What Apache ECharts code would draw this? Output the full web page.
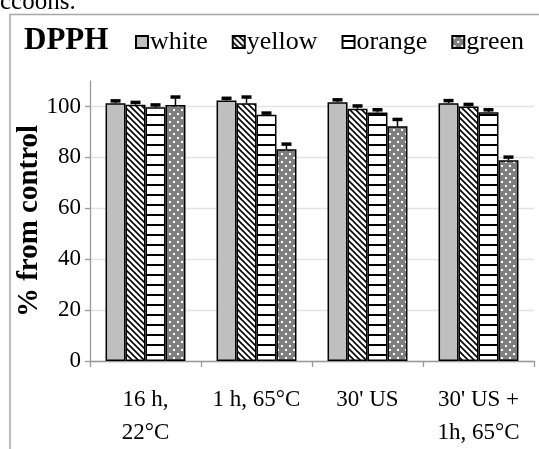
<!DOCTYPE html>
<html><head><meta charset="utf-8">
<script src="https://cdn.jsdelivr.net/npm/echarts@6/dist/echarts.min.js"></script>
<style>html,body{margin:0;padding:0;background:#fff}#c{width:539px;height:449px}</style>
</head><body><div id="c"></div>
<script>
const categories = ['16 h,\n22°C', '1 h, 65°C', "30' US", "30' US +\n1h, 65°C"];
const seriesNames = ['white', 'yellow', 'orange', 'green'];
const whiteVals = [101.3, 102.3, 101.7, 101.3];
const yellowVals = [100.7, 101.3, 99.1, 100.0];
const orangeVals = [99.7, 96.7, 97.6, 97.7];
const greenVals = [100.6, 83.2, 92.2, 78.9];
const whiteErr = [0.8, 0.8, 0.8, 0.9];
const yellowErr = [0.8, 2.3, 1.0, 0.7];
const orangeErr = [0.8, 0.6, 1.0, 0.9];
const greenErr = [3.0, 1.9, 2.6, 1.1];
const yTicks = [0, 20, 40, 60, 80, 100];

function mkCanvas(w, h, draw) {
  const c = document.createElement('canvas'); c.width = w; c.height = h;
  draw(c.getContext('2d')); return c;
}
const patYellow = mkCanvas(6, 6, g => {
  g.fillStyle = '#fff'; g.fillRect(0, 0, 6, 6);
  g.strokeStyle = '#000'; g.lineWidth = 1.6;
  g.beginPath(); g.moveTo(-1, -1); g.lineTo(7, 7);
  g.moveTo(-7, -1); g.lineTo(1, 7); g.moveTo(5, -1); g.lineTo(13, 7); g.stroke();
});
const patOrange = mkCanvas(10, 10, g => {
  g.fillStyle = '#fff'; g.fillRect(0, 0, 10, 10);
  g.fillStyle = '#000'; g.fillRect(0, 4, 10, 2);
});
const patGreen = mkCanvas(8, 8, g => {
  g.fillStyle = '#7f7f7f'; g.fillRect(0, 0, 8, 8);
  g.fillStyle = '#fff'; g.fillRect(1, 1, 2, 2); g.fillRect(5, 5, 2, 2);
});
const fills = ['#bfbfbf', {image: patYellow, repeat: 'repeat'}, {image: patOrange, repeat: 'repeat'}, {image: patGreen, repeat: 'repeat'}];
const vals = [whiteVals, yellowVals, orangeVals, greenVals];
const errs = [whiteErr, yellowErr, orangeErr, greenErr];
const GAP = 0.28;
const font = 'Liberation Serif';

const series = [];
seriesNames.forEach((n, i) => {
  series.push({
    name: n, type: 'bar', data: vals[i], barGap: '0%', barCategoryGap: (GAP * 100) + '%',
    itemStyle: {color: fills[i], borderColor: '#000', borderWidth: 1.5},
    emphasis: {disabled: true}, animation: false
  });
});
seriesNames.forEach((n, i) => {
  series.push({
    type: 'custom', silent: true, animation: false, z: 5,
    data: vals[i].map((v, k) => [k, v, errs[i][k]]),
    renderItem: (params, api) => {
      const ci = api.value(0), v = api.value(1), e = api.value(2);
      const base = api.coord([ci, v]), top = api.coord([ci, v + e]);
      const band = api.size([1, 0])[0];
      const bw = band * (1 - GAP) / 4;
      const x = base[0] + (i - 1.5) * bw;
      return {type: 'group', children: [
        {type: 'line', shape: {x1: x, y1: base[1], x2: x, y2: top[1]}, style: {stroke: '#000', lineWidth: 1.5}},
        {type: 'rect', shape: {x: x - 5, y: top[1] - 2, width: 10, height: 3.5}, style: {fill: '#000'}}
      ]};
    }
  });
});

const chart = echarts.init(document.getElementById('c'), null, {renderer: 'canvas'});
chart.setOption({
  animation: false,
  backgroundColor: '#fff',
  title: {text: 'DPPH', left: 19, top: 20, textStyle: {fontFamily: font, fontWeight: 'bold', fontSize: 31, color: '#000'}},
  legend: {
    data: seriesNames, left: 130, top: 24, itemWidth: 12, itemHeight: 12, itemGap: 24, icon: 'rect',
    textStyle: {fontFamily: font, fontSize: 26, color: '#000', padding: [0, 0, 0, -3]}
  },
  grid: {left: 90, right: 5, top: 81, bottom: 85, containLabel: false},
  xAxis: {
    type: 'category', data: categories,
    axisLine: {lineStyle: {color: '#999', width: 1.3}},
    axisTick: {show: true, length: 6, lineStyle: {color: '#999', width: 1.3}},
    axisLabel: {interval: 0, fontFamily: font, fontSize: 23, color: '#000', lineHeight: 33, margin: 22}
  },
  yAxis: {
    type: 'value', min: 0, max: 110, interval: 20,
    name: '% from control', nameLocation: 'middle', nameGap: 46, nameMoveOverlap: false,
    nameTextStyle: {fontFamily: font, fontWeight: 'bold', fontSize: 29, color: '#000'},
    axisLine: {show: true, lineStyle: {color: '#999', width: 1.3}},
    axisTick: {show: true, length: 5, customValues: yTicks, lineStyle: {color: '#999', width: 1.3}},
    axisLabel: {fontFamily: font, fontSize: 23, color: '#000', margin: 9, customValues: yTicks},
    splitLine: {show: true, lineStyle: {color: '#e3e3e3', width: 1.3}}
  },
  graphic: [
    {type: 'polyline', shape: {points: [[10, 449], [10, 14.5], [539, 14.5]]}, style: {stroke: '#a6a6a6', lineWidth: 1.5, fill: null}, silent: true},
    {type: 'text', left: 0, top: -10, style: {text: 'ccoons.', fontFamily: font, fontSize: 25, fill: '#000'}, silent: true}
  ],
  series: series
});
</script></body></html>
